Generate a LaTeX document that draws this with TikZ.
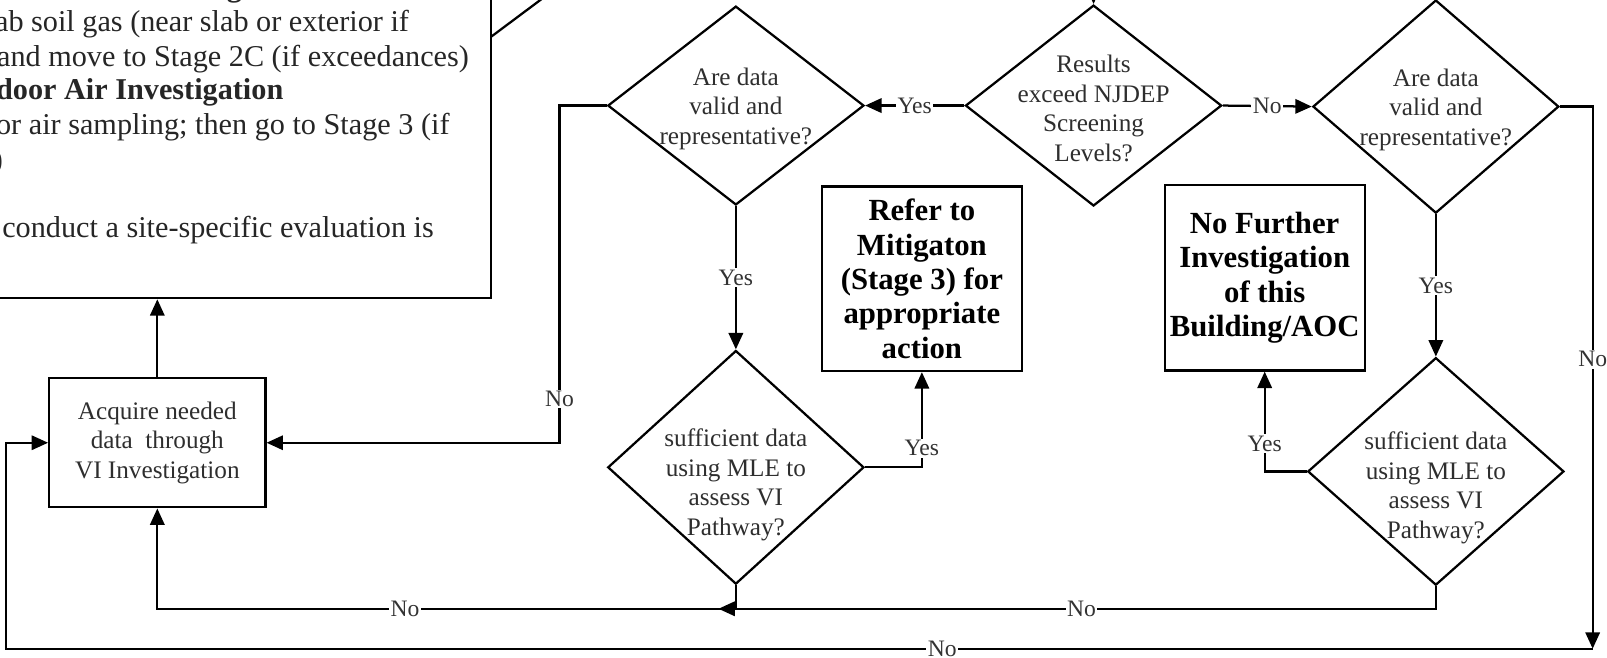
\documentclass[tikz,border=0pt]{standalone}
\usepackage{fontspec}
\setmainfont{Liberation Serif}
\usetikzlibrary{shapes.geometric,arrows.meta}
\tikzset{
  flowline/.style={line width=2.2pt},
  flowarrow/.style={flowline,-{Triangle[length=16pt,width=14pt]}},
  decision/.style={diamond, draw, line width=2.2pt, inner sep=0pt},
  stepbox/.style={draw, line width=2.2pt, inner sep=0pt},
  qtext/.style={align=center, text=black!82, inner sep=0pt, font=\fontsize{24.6}{28.8}\selectfont},
  dtext/.style={qtext, yshift=-3pt},
  boldtext/.style={align=center, inner sep=0pt, font=\fontsize{30}{33.5}\selectfont\bfseries},
  notetext/.style={anchor=base west, inner sep=0pt, text=black!85, font=\fontsize{29.5}{33.5}\selectfont},
  edgelabel/.style={fill=white, inner sep=1.5pt, text=black!80, font=\fontsize{23}{25}\selectfont},
}
\begin{document}
\begin{tikzpicture}[x=1pt,y=-1pt]
\useasboundingbox (0,0) rectangle (1568,642);
\clip (0,0) rectangle (1568,642);

% note box of the previous stage (runs past the frame)
\node[stepbox, anchor=south east, minimum width=600pt, minimum height=400pt] (note) at (480,292) {};
\node[notetext, font=\fontsize{29.5}{33.5}\selectfont\bfseries] (n0) at (136,-3) {Investigation};
\node[notetext] (n1) at (-5,30.7) {ab soil gas (near slab or exterior if};
\node[notetext] (n2) at (-3,65) {and move to Stage 2C (if exceedances)};
\node[notetext, font=\fontsize{29.5}{33.5}\selectfont\bfseries] (n3) at (-4,97.5) {door Air Investigation};
\node[notetext] (n4) at (-4,131.5) {or air sampling; then go to Stage 3 (if};
\node[notetext, anchor=base east] (n5) at (3,165) {)};
\node[notetext] (n7) at (2,232) {conduct a site-specific evaluation is};
\node[notetext, anchor=base east] (n8) at (2,265.5) {.};

% decisions
\node[decision, minimum width=250pt, minimum height=194pt] (valid1) at (718,103) {};
\node[dtext] (valid1t) at (valid1) {Are data\\valid and\\representative?};
\node[decision, minimum width=250pt, minimum height=196pt] (screen) at (1067,103) {};
\node[dtext] (screent) at (screen) {Results\\exceed NJDEP\\Screening\\Levels?};
\node[decision, minimum width=240pt, minimum height=208pt] (valid2) at (1401,104) {};
\node[dtext] (valid2t) at (valid2) {Are data\\valid and\\representative?};
\node[decision, minimum width=250pt, minimum height=228pt] (mle1) at (718,456) {};
\node[dtext] (mle1t) at (718,470) {sufficient data\\using MLE to\\assess VI\\Pathway?};
\node[decision, minimum width=250pt, minimum height=222pt] (mle2) at (1401,460) {};
\node[dtext] (mle2t) at (1401,473) {sufficient data\\using MLE to\\assess VI\\Pathway?};

% action boxes
\node[stepbox, boldtext, minimum width=195pt, minimum height=180pt] (mitig) at (899.5,272) {Refer to\\Mitigaton\\(Stage 3) for\\appropriate\\action};
\node[stepbox, boldtext, minimum width=195pt, minimum height=181pt] (nfi) at (1234,271) {No Further\\Investigation\\of this\\Building/AOC};
\node[stepbox, qtext, minimum width=211pt, minimum height=126pt] (acq) at (153.5,432) {Acquire needed\\data\ \ through\\VI Investigation};

% bends and loose ends of the connectors
\coordinate (feed) at (1067,-20);
\coordinate (noleft) at (546,103);
\coordinate (rowA) at (0,594);
\coordinate (merge) at (701,594);
\coordinate (rightturn) at (1554,633);
\coordinate (leftturn) at (6,432);
\coordinate (diagstart) at (479,36);
\coordinate (diagend) at (546,-14);

% connectors
\draw[flowline] (diagstart) -- (diagend);
\draw[flowarrow] (feed) -- (screen.north);
\draw[flowarrow] (screen.west) -- node[edgelabel]{Yes} (valid1.east);
\draw[flowarrow] (screen.east) -- node[edgelabel]{No} (valid2.west);
\draw[flowarrow] (valid1.south) -- node[edgelabel]{Yes} (mle1.north);
\draw[flowarrow] (valid2.south) -- node[edgelabel]{Yes} (mle2.north);
\draw[flowarrow] (mle1.east) -| node[edgelabel,pos=0.6]{Yes} (mitig.south);
\draw[flowarrow] (mle2.west) -| node[edgelabel,pos=0.64]{Yes} (nfi.south);
\draw[flowarrow] (valid1.west) -- (noleft) |- node[edgelabel,pos=0.435]{No} (acq.east);
\draw[flowarrow] (acq.north) -- (acq.north |- note.south);
\draw[flowarrow] (mle1.south) -- (mle1.south |- rowA) -| node[edgelabel,pos=0.286]{No} (acq.south);
\draw[flowarrow] (mle2.south) |- node[edgelabel,pos=0.747]{No} (merge);
\draw[flowarrow] (valid2.east) -| node[edgelabel,pos=0.733]{No} (rightturn);
\draw[flowarrow] (rightturn) -| node[edgelabel,pos=0.205]{No} (leftturn) -- (acq.west);
\end{tikzpicture}
\end{document}
